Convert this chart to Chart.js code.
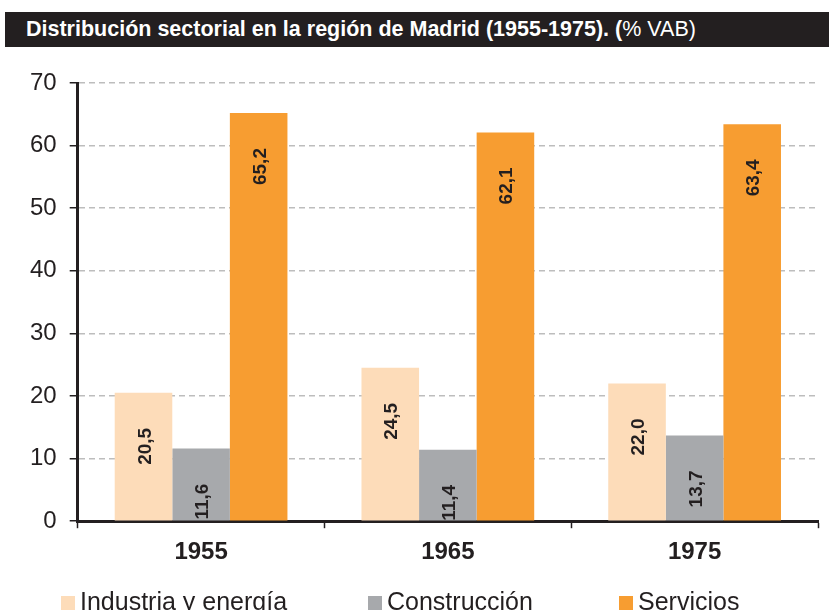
<!DOCTYPE html>
<html>
<head>
<meta charset="utf-8">
<script src="https://cdn.jsdelivr.net/npm/chart.js@4.4.1/dist/chart.umd.min.js"></script>
<style>
  html, body { margin: 0; padding: 0; background: #fff; overflow: hidden; }
  #wrap { position: relative; width: 829px; height: 610px; }
  #title {
    position: absolute; left: 5px; top: 12px; width: 824px; height: 35px;
    background: #231f20; color: #fff;
    font-family: "Liberation Sans Narrow", "Arial Narrow", sans-serif;
    font-size: 21.5px; line-height: 35px; white-space: nowrap;
  }
  #title span.t { padding-left: 21px; font-weight: bold; }
  #legend {
    position: absolute; left: 0; top: 586px; width: 829px; height: 30px;
    font-family: "Liberation Sans Narrow", "Arial Narrow", sans-serif;
    font-size: 25px; color: #231f20; white-space: nowrap;
  }
  #legend .item { position: absolute; top: 0; line-height: 30px; }
  #legend .box { display: inline-block; width: 14px; height: 14px; margin-right: 5px; vertical-align: 0px; }
  canvas { position: absolute; left: 0; top: 0; }
</style>
</head>
<body>
<div id="wrap">
  <canvas id="myChart" width="829" height="610"></canvas>
  <div id="title"><span class="t">Distribución sectorial en la región de Madrid (1955-1975). (</span>% VAB)</div>
  <div id="legend"></div>
</div>
<script>
'use strict'

const years = ['1955', '1965', '1975'];
const seriesNames = ['Industria y energía', 'Construcción', 'Servicios'];
const industria = [20.5, 24.5, 22.0];
const construccion = [11.6, 11.4, 13.7];
const servicios = [65.2, 62.1, 63.4];
const yTicks = [0, 10, 20, 30, 40, 50, 60, 70];

const colors = ['#fddcb9', '#a7a9ac', '#f79d31'];
const ink = '#231f20';
const legendLeft = [61, 368, 619];

// legend built from the series
const legendElement = document.getElementById('legend');
seriesNames.forEach(function(name, i){
  let item = document.createElement('span');
  item.className = 'item';
  item.style.left = legendLeft[i] + 'px';
  let box = document.createElement('span');
  box.className = 'box';
  box.style.background = colors[i];
  item.appendChild(box);
  item.appendChild(document.createTextNode(name));
  legendElement.appendChild(item);
});

// rotated value labels inside the bars
const barLabels = {
  id: 'barLabels',
  afterDatasetsDraw(chart){
    const ctx = chart.ctx;
    chart.data.datasets.forEach(function(ds, i){
      const meta = chart.getDatasetMeta(i);
      meta.data.forEach(function(bar, j){
        let txt = ds.data[j].toFixed(1).replace('.', ',');
        ctx.save();
        ctx.translate(bar.x + 7, bar.y + 35);
        ctx.rotate(-Math.PI / 2);
        ctx.font = 'bold 19px "Liberation Sans", Arial, sans-serif';
        ctx.fillStyle = ink;
        ctx.textAlign = 'right';
        ctx.textBaseline = 'alphabetic';
        ctx.fillText(txt, 0, 0);
        ctx.restore();
      });
    });
  }
};

const ctx = document.getElementById('myChart').getContext('2d');
const myChart = new Chart(ctx, {
  type: 'bar',
  data: {
    labels: years,
    datasets: [
      { label: seriesNames[0], data: industria, backgroundColor: colors[0] },
      { label: seriesNames[1], data: construccion, backgroundColor: colors[1] },
      { label: seriesNames[2], data: servicios, backgroundColor: colors[2] }
    ]
  },
  options: {
    responsive: false,
    animation: false,
    layout: { padding: { top: 83, right: 11, bottom: 33, left: 17 } },
    datasets: {
      bar: { categoryPercentage: 0.7, barPercentage: 1.0, borderWidth: 0 }
    },
    plugins: {
      legend: { display: false },
      tooltip: { enabled: false }
    },
    scales: {
      x: {
        grid: {
          offset: true, drawOnChartArea: false, drawTicks: true,
          tickLength: 7, tickColor: ink, tickWidth: 1.5
        },
        border: { display: true, color: ink, width: 3 },
        ticks: {
          color: ink, padding: 10,
          font: { family: '"Liberation Sans", Arial, sans-serif', size: 24, weight: 'bold' }
        }
      },
      y: {
        min: 0, max: 70,
        afterBuildTicks(axis){ axis.ticks = yTicks.map(v => ({ value: v })); },
        grid: {
          color: '#bdbdbd', lineWidth: 1.5,
          drawTicks: true, tickLength: 8, tickColor: ink, tickWidth: 1.5, tickBorderDash: []
        },
        border: { display: true, color: ink, width: 3, dash: [6, 4] },
        ticks: {
          color: ink, padding: 13,
          font: { family: '"Liberation Sans", Arial, sans-serif', size: 24 }
        }
      }
    }
  },
  plugins: [barLabels]
});
</script>
</body>
</html>
